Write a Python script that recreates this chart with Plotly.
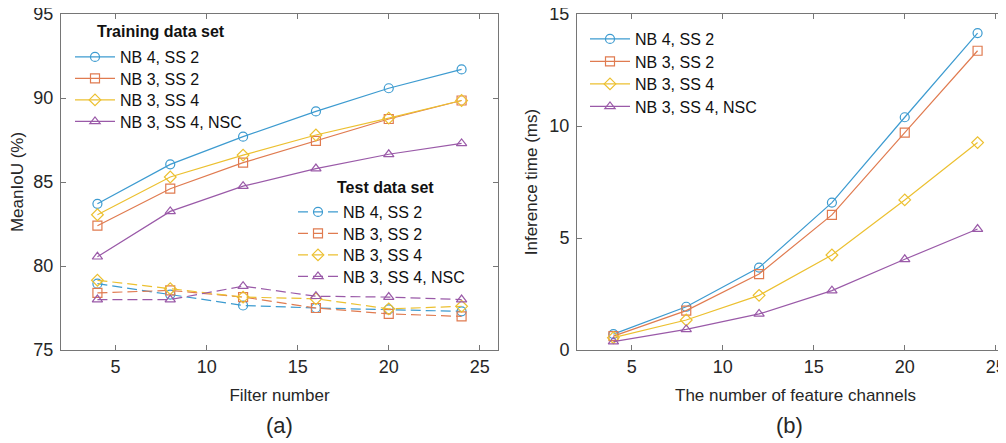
import plotly.graph_objects as go

W, H = 1006, 443

filters = [4, 8, 12, 16, 20, 24]
channels = [4, 8, 12, 16, 20, 24]
series_names = ["NB 4, SS 2", "NB 3, SS 2", "NB 3, SS 4", "NB 3, SS 4, NSC"]

# (a) MeanIoU (%) - training data set
train_nb4_ss2 = [83.7, 86.05, 87.7, 89.2, 90.58, 91.7]
train_nb3_ss2 = [82.4, 84.6, 86.15, 87.45, 88.75, 89.85]
train_nb3_ss4 = [83.05, 85.3, 86.6, 87.8, 88.8, 89.85]
train_nb3_ss4_nsc = [80.55, 83.25, 84.75, 85.8, 86.65, 87.3]

# (a) MeanIoU (%) - test data set
test_nb4_ss2 = [78.95, 78.3, 77.65, 77.5, 77.42, 77.3]
test_nb3_ss2 = [78.4, 78.55, 78.15, 77.5, 77.15, 77.0]
test_nb3_ss4 = [79.15, 78.65, 78.15, 78.05, 77.45, 77.6]
test_nb3_ss4_nsc = [78.0, 78.0, 78.8, 78.2, 78.15, 78.0]

# (b) Inference time (ms)
time_nb4_ss2 = [0.71, 1.93, 3.68, 6.58, 10.39, 14.15]
time_nb3_ss2 = [0.62, 1.76, 3.39, 6.03, 9.7, 13.36]
time_nb3_ss4 = [0.55, 1.34, 2.44, 4.24, 6.7, 9.26]
time_nb3_ss4_nsc = [0.37, 0.92, 1.61, 2.65, 4.05, 5.4]

colors = ["#3d9bd0", "#e07b50", "#ecc030", "#9a5aa8"]
symbols = ["circle-open", "square-open", "diamond-open", "triangle-up-open"]

train = [train_nb4_ss2, train_nb3_ss2, train_nb3_ss4, train_nb3_ss4_nsc]
test = [test_nb4_ss2, test_nb3_ss2, test_nb3_ss4, test_nb3_ss4_nsc]
times = [time_nb4_ss2, time_nb3_ss2, time_nb3_ss4, time_nb3_ss4_nsc]

FONT = "Liberation Sans, Arial, sans-serif"

OFF = 8  # page body offset of the figure


def px_x(p):
    return (p - OFF) / W


def px_y(p):
    return 1 - (p - OFF) / H


fig = go.Figure()

# legend placement (screen pixels): start of line sample, row center y
groups = [
    (train, "x", "y", None, 77, [57, 78.5, 100, 121.5], filters),
    (test, "x", "y", "10px,5px", 300, [212, 233.5, 255, 276.5], filters),
    (times, "x2", "y2", None, 592, [39, 61.5, 84, 106.5], channels),
]

legend_layouts = {}
k = 0
for data, xa, ya, dash, lx, rows, xs in groups:
    for i in range(4):
        k += 1
        lname = "legend" if k == 1 else f"legend{k}"
        line = dict(color=colors[i], width=1.2)
        if dash:
            line["dash"] = dash
        fig.add_trace(go.Scatter(
            x=xs, y=data[i], name=series_names[i], mode="lines+markers",
            line=line,
            marker=dict(symbol=symbols[i], size=9, color=colors[i], line=dict(width=1.2)),
            xaxis=xa, yaxis=ya, legend=lname))
        legend_layouts[lname] = dict(
            x=px_x(lx - 7), y=px_y(rows[i]), xanchor="left", yanchor="middle",
            bgcolor="rgba(0,0,0,0)", borderwidth=0,
            font=dict(family=FONT, size=16, color="#111"), itemwidth=40)

axis_common = dict(
    showline=True, linecolor="#767676", linewidth=1, mirror="ticks",
    ticks="inside", ticklen=5, tickcolor="#767676", tickwidth=1,
    showgrid=False, zeroline=False, automargin=False, ticklabeloverflow="allow",
    tickfont=dict(family=FONT, size=18, color="#262626"),
    title_font=dict(family=FONT, size=17, color="#262626"),
)

ydom = [px_y(350), px_y(14)]

fig.update_layout(
    template="none",
    width=W, height=H,
    margin=dict(l=0, r=0, t=0, b=0, autoexpand=False),
    paper_bgcolor="white", plot_bgcolor="white",
    font=dict(family=FONT, color="#262626"),
    xaxis=dict(domain=[px_x(61), px_x(498)], range=[2, 26], tickvals=[5, 10, 15, 20, 25],
               title=dict(text="Filter number", standoff=13), ticklabelstandoff=0, anchor="y", **axis_common),
    yaxis=dict(domain=ydom, range=[75, 95], tickvals=[75, 80, 85, 90, 95],
               title=dict(text="MeanIoU (%)", standoff=9), ticklabelstandoff=3, anchor="x", **axis_common),
    xaxis2=dict(domain=[px_x(577), 1.0], range=[2, 26], tickvals=[5, 10, 15, 20, 25],
                title=dict(text="The number of feature channels", standoff=13), ticklabelstandoff=0, anchor="y2", **axis_common),
    yaxis2=dict(domain=ydom, range=[0, 15], tickvals=[0, 5, 10, 15],
                title=dict(text="Inference time (ms)", standoff=7), ticklabelstandoff=3, anchor="x2", **axis_common),
    showlegend=True,
    **legend_layouts,
)

fig.add_annotation(text="<b>Training data set</b>", x=px_x(95), y=px_y(32), xref="paper", yref="paper",
                   xanchor="left", yanchor="middle", showarrow=False,
                   font=dict(family=FONT, size=16, color="#111"))
fig.add_annotation(text="<b>Test data set</b>", x=px_x(335), y=px_y(188), xref="paper", yref="paper",
                   xanchor="left", yanchor="middle", showarrow=False,
                   font=dict(family=FONT, size=16, color="#111"))
fig.add_annotation(text="(a)", x=px_x(279.5), y=px_y(425), xref="paper", yref="paper",
                   xanchor="center", yanchor="middle", showarrow=False,
                   font=dict(family=FONT, size=22, color="#262626"))
fig.add_annotation(text="(b)", x=px_x(789), y=px_y(425), xref="paper", yref="paper",
                   xanchor="center", yanchor="middle", showarrow=False,
                   font=dict(family=FONT, size=22, color="#262626"))

fig.write_html("out.html")
